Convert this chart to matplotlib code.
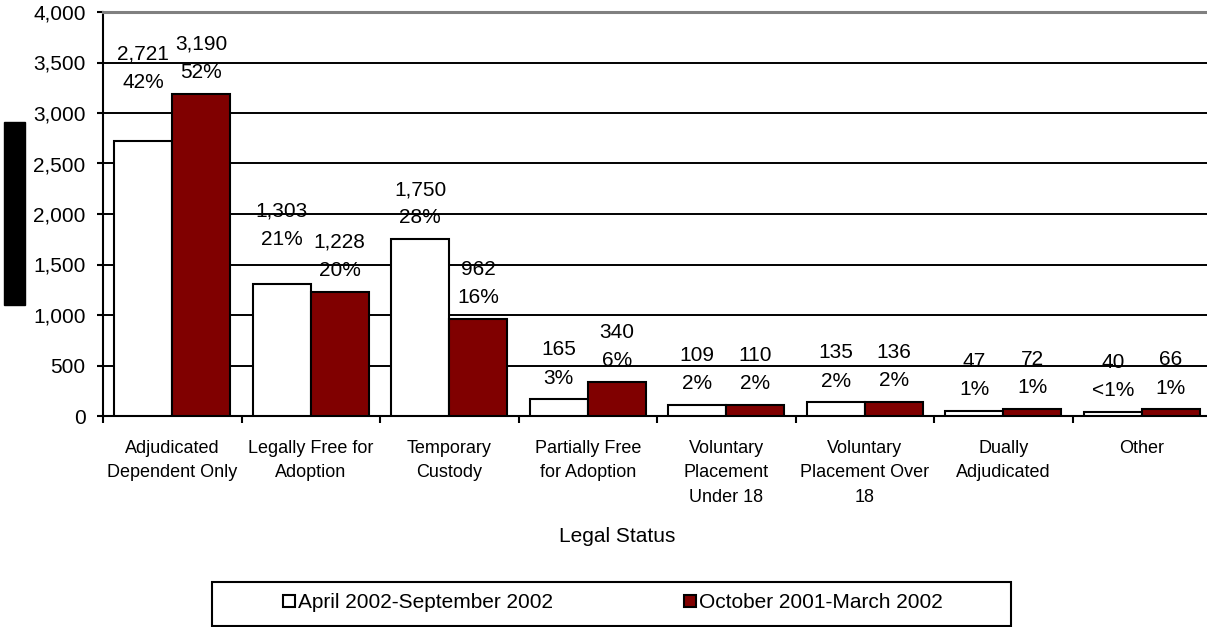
import numpy as np
import matplotlib
matplotlib.use("Agg")
import matplotlib.pyplot as plt
from matplotlib.patches import Rectangle, Patch
from matplotlib.ticker import FuncFormatter

plt.rcParams['font.family'] = ['Liberation Sans', 'DejaVu Sans']

# data
categories = ["Adjudicated\nDependent Only", "Legally Free for\nAdoption",
              "Temporary\nCustody", "Partially Free\nfor Adoption",
              "Voluntary\nPlacement\nUnder 18", "Voluntary\nPlacement Over\n18",
              "Dually\nAdjudicated", "Other"]
apr_sep_2002 = [2721, 1303, 1750, 165, 109, 135, 47, 40]
apr_sep_pct = ["42%", "21%", "28%", "3%", "2%", "2%", "1%", "<1%"]
oct_mar_2002 = [3190, 1228, 962, 340, 110, 136, 72, 66]
oct_mar_pct = ["52%", "20%", "16%", "6%", "2%", "2%", "1%", "1%"]
series_names = ["April 2002-September 2002", "October 2001-March 2002"]

W, H = 1207, 627
fig = plt.figure(figsize=(W / 100, H / 100), dpi=100)
# plot area in pixels: left 103, right 1211, top 12, bottom 416
ax = fig.add_axes([103 / W, 1 - 416 / H, 1108 / W, 404 / H])

x = np.arange(len(categories))
bw = 0.417
maroon = '#800000'
ax.bar(x - bw / 2, apr_sep_2002, bw, color='white', edgecolor='black', lw=1.5, zorder=3)
ax.bar(x + bw / 2, oct_mar_2002, bw, color=maroon, edgecolor='black', lw=1.5, zorder=3)

# value + percent labels above bars (two labels were moved up by hand in the original)
nudge = {(0, 0): 27, (0, 1): 17}
for i in range(len(categories)):
    for s, (vals, pcts) in enumerate([(apr_sep_2002, apr_sep_pct), (oct_mar_2002, oct_mar_pct)]):
        xo = x[i] - bw / 2 if s == 0 else x[i] + bw / 2
        ax.annotate('{:,}\n{}'.format(vals[i], pcts[i]), (xo, vals[i]),
                    xytext=(0, 25.5 + nudge.get((s, i), 0)), textcoords='offset points',
                    ha='center', va='center', fontsize=15, linespacing=1.62, zorder=4)

ax.set_xlim(-0.5, len(categories) - 0.5)
ax.set_ylim(0, 4000)
ax.set_yticks(np.arange(0, 4001, 500))
ax.yaxis.set_major_formatter(FuncFormatter(lambda v, p: '{:,.0f}'.format(v)))
ax.tick_params(axis='y', length=4.5, width=1.5, pad=8, labelsize=15)

ax.set_xticks(x)
ax.set_xticklabels(categories, fontsize=13, linespacing=1.6)
ax.set_xticks(np.arange(len(categories) + 1) - 0.5, minor=True)
ax.tick_params(axis='x', which='major', length=0, pad=17)
ax.tick_params(axis='x', which='minor', length=5, width=1.5)

ax.set_axisbelow(True)
ax.yaxis.grid(True, color='black', lw=1.4)

ax.spines['right'].set_visible(False)
ax.spines['top'].set_color('#808080')
ax.spines['top'].set_linewidth(2.2)
ax.spines['left'].set_linewidth(1.5)
ax.spines['bottom'].set_linewidth(1.5)

ax.set_xlabel('Legal Status', fontsize=15, va='center')
ax.xaxis.set_label_coords((617 - 103) / 1108, -(536 - 416) / 404)

# redacted y-axis title block
fig.patches.append(Rectangle((4 / W, 1 - 305 / H), 21 / W, 183 / H,
                             transform=fig.transFigure, color='black'))

# legend with its own frame
fig.patches.append(Rectangle((212 / W, 1 - 626 / H), 799 / W, 44 / H,
                             transform=fig.transFigure, facecolor='white',
                             edgecolor='black', lw=1.5))
handles = [Patch(facecolor='white', edgecolor='black', lw=1.5),
           Patch(facecolor=maroon, edgecolor='black', lw=1.5)]
fig.legend(handles, series_names, loc='center', bbox_to_anchor=(613 / W, 1 - 603 / H),
           ncol=2, frameon=False, fontsize=15, handlelength=0.55, handleheight=0.55,
           handletextpad=0.15, columnspacing=6.3)

fig.savefig('out.png', dpi=100)
